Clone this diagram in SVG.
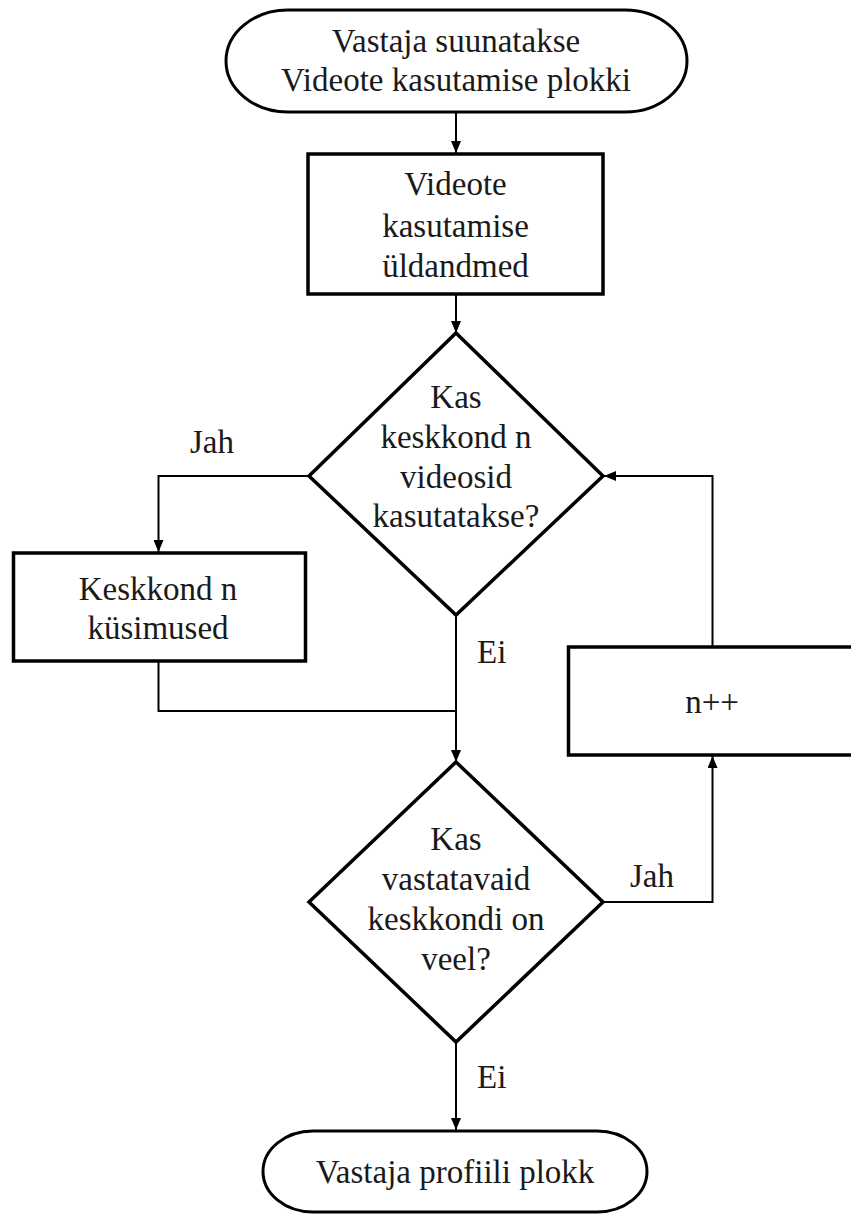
<svg xmlns="http://www.w3.org/2000/svg" width="851" height="1214" viewBox="0 0 851 1214">
<style>
.shape{fill:#fff;stroke:#000;stroke-width:3.5}
.term{fill:#fff;stroke:#000;stroke-width:3}
.conn{fill:none;stroke:#000;stroke-width:2}
text{font-family:"Liberation Serif","Times New Roman",serif;font-size:33px;fill:#1a1a1a}
.c{text-anchor:middle}
</style>
<defs>
<marker id="arr" markerUnits="userSpaceOnUse" markerWidth="12" markerHeight="10" refX="12" refY="5" orient="auto">
<path d="M0,0 L12,5 L0,10 z" fill="#000"/>
</marker>
</defs>
<g id="connectors">
<path class="conn" d="M456,112 V153" marker-end="url(#arr)"/>
<path class="conn" d="M456,295 V333" marker-end="url(#arr)"/>
<path class="conn" d="M309,476 H158.5 V552" marker-end="url(#arr)"/>
<path class="conn" d="M158.5,662 V711 H456"/>
<path class="conn" d="M456,615 V762" marker-end="url(#arr)"/>
<path class="conn" d="M712.5,646 V476 H604" marker-end="url(#arr)"/>
<path class="conn" d="M603,902 H712.5 V756" marker-end="url(#arr)"/>
<path class="conn" d="M456,1042 V1130" marker-end="url(#arr)"/>
<text x="212" y="453" class="c">Jah</text>
<text x="477" y="663">Ei</text>
<text x="652" y="887" class="c">Jah</text>
<text x="477" y="1088">Ei</text>
</g>
<g id="start">
<rect class="term" x="226" y="10" width="461" height="102" rx="62" ry="51"/>
<text x="456" y="52" class="c">Vastaja suunatakse</text>
<text x="456" y="91" class="c">Videote kasutamise plokki</text>
</g>
<g id="general">
<rect class="shape" x="308" y="154" width="295" height="140"/>
<text x="455.5" y="195" class="c">Videote</text>
<text x="455.5" y="237" class="c">kasutamise</text>
<text x="455.5" y="277" class="c">üldandmed</text>
</g>
<g id="decision1">
<polygon class="shape" points="456,333 603,476 456,615 309,476"/>
<text x="456" y="408" class="c">Kas</text>
<text x="456" y="448" class="c">keskkond n</text>
<text x="456" y="488" class="c">videosid</text>
<text x="456" y="527" class="c">kasutatakse?</text>
</g>
<g id="questions">
<rect class="shape" x="13.5" y="553" width="292" height="108"/>
<text x="158" y="600" class="c">Keskkond n</text>
<text x="158" y="639" class="c">küsimused</text>
</g>
<g id="increment">
<rect class="shape" x="568.5" y="647" width="300" height="108"/>
<text x="712" y="713" class="c">n++</text>
</g>
<g id="decision2">
<polygon class="shape" points="456,762 603,902 456,1042 309,902"/>
<text x="456" y="850" class="c">Kas</text>
<text x="456" y="890" class="c">vastatavaid</text>
<text x="456" y="930" class="c">keskkondi on</text>
<text x="456" y="970" class="c">veel?</text>
</g>
<g id="end">
<rect class="term" x="263" y="1131" width="384" height="81" rx="50" ry="40.5"/>
<text x="455" y="1183" class="c">Vastaja profiili plokk</text>
</g>
</svg>
